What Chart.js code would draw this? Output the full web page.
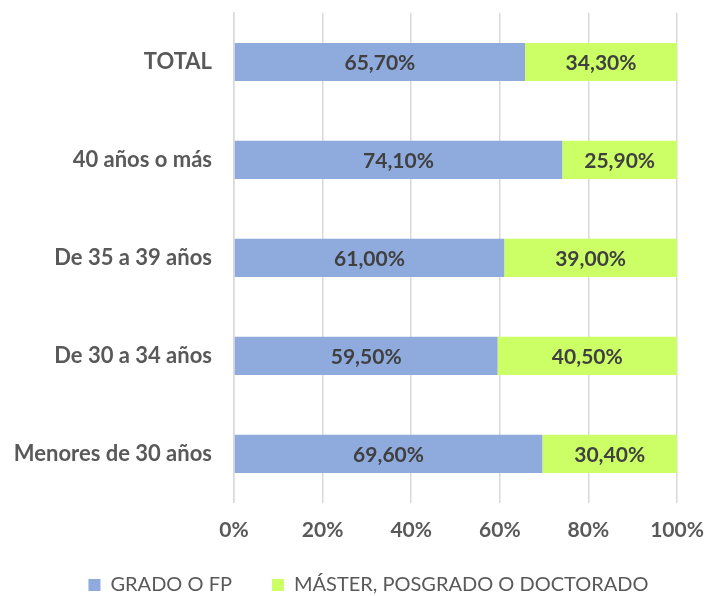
<!DOCTYPE html>
<html>
<head>
<meta charset="utf-8">
<script src="https://cdn.jsdelivr.net/npm/chart.js@4/dist/chart.umd.min.js"></script>
<style>
  html, body { margin: 0; padding: 0; background: #fff; }
</style>
</head>
<body>
<canvas id="c" width="707" height="596"></canvas>
<script>
var categories = ['TOTAL', '40 años o más', 'De 35 a 39 años', 'De 30 a 34 años', 'Menores de 30 años'];
var grado = [65.7, 74.1, 61.0, 59.5, 69.6];
var master = [34.3, 25.9, 39.0, 40.5, 30.4];
var seriesNames = ['GRADO O FP', 'MÁSTER, POSGRADO O DOCTORADO'];
var xTicks = [0, 20, 40, 60, 80, 100];

var fontFamily = 'Lato, "Open Sans", sans-serif';

// draws the value in the middle of each bar piece
var barLabels = {
    id: 'barLabels',
    afterDatasetsDraw: function(chart) {
        var ctx = chart.ctx;
        ctx.save();
        ctx.font = 'bold 21px ' + fontFamily;
        ctx.fillStyle = '#404040';
        ctx.textAlign = 'center';
        ctx.textBaseline = 'middle';
        chart.data.datasets.forEach(function(ds, i) {
            chart.getDatasetMeta(i).data.forEach(function(bar, j) {
                var txt = ds.data[j].toFixed(2).replace('.', ',') + '%';
                ctx.fillText(txt, (bar.x + bar.base) / 2, bar.y + 1);
            });
        });
        ctx.restore();
    }
};

// nudge the legend a bit right and up, like the excel one
var legendNudge = {
    id: 'legendNudge',
    afterLayout: function(chart) {
        var lg = chart.legend;
        lg.left += 30; lg.right += 30;
        lg.top -= 23; lg.bottom -= 23;
    }
};

var chart = new Chart(document.getElementById('c').getContext('2d'), {
    type: 'bar',
    data: {
        labels: categories,
        datasets: [{
            label: seriesNames[0],
            data: grado,
            backgroundColor: '#8faadc',
            barPercentage: 0.39,
            categoryPercentage: 1
        }, {
            label: seriesNames[1],
            data: master,
            backgroundColor: '#ccff66',
            barPercentage: 0.39,
            categoryPercentage: 1
        }]
    },
    options: {
        indexAxis: 'y',
        responsive: false,
        animation: false,
        layout: { padding: { top: 13, right: 30, left: 0, bottom: -32 } },
        scales: {
            x: {
                stacked: true,
                min: 0,
                max: 100,
                afterBuildTicks: function(axis) {
                    axis.ticks = xTicks.map(function(v) { return { value: v }; });
                },
                afterFit: function(axis) {
                    axis.paddingLeft = 0;
                    axis.paddingRight = 0;
                },
                grid: { color: '#d9d9d9', lineWidth: 1.5, drawTicks: false },
                border: { display: false },
                ticks: {
                    padding: 15,
                    color: '#595959',
                    font: { family: fontFamily, size: 21, weight: 'bold' },
                    callback: function(v) { return v + '%'; }
                }
            },
            y: {
                stacked: true,
                afterFit: function(axis) {
                    axis.paddingTop = 0;
                    axis.paddingBottom = 0;
                    axis.width = 234;
                },
                grid: { display: false, drawTicks: false },
                border: { color: '#d9d9d9', width: 1.5 },
                ticks: {
                    padding: 22,
                    color: '#595959',
                    font: { family: fontFamily, size: 22, weight: 'bold' }
                }
            }
        },
        plugins: {
            legend: {
                position: 'bottom',
                labels: {
                    boxWidth: 12,
                    boxHeight: 12,
                    padding: 40,
                    color: '#595959',
                    font: { family: fontFamily, size: 20 }
                }
            },
            tooltip: { enabled: false }
        }
    },
    plugins: [barLabels, legendNudge]
});
</script>
</body>
</html>
